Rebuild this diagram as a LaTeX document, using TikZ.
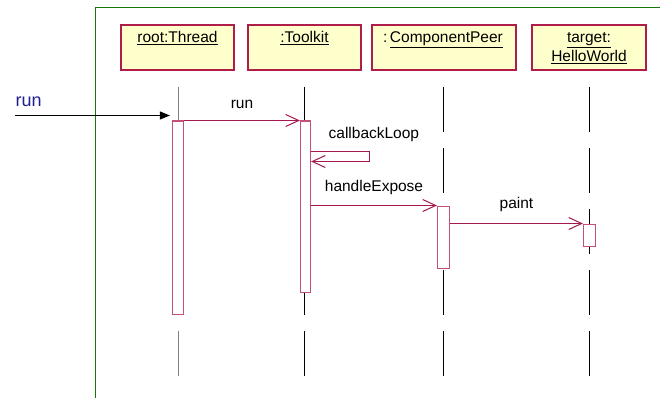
\documentclass[tikz,border=0pt]{standalone}
\usepackage{fontspec}
\setmainfont{Liberation Sans}
\usetikzlibrary{arrows.meta, positioning}
\definecolor{framegreen}{RGB}{20,120,10}
\definecolor{objfill}{RGB}{255,255,204}
\definecolor{objline}{RGB}{175,30,75}
\definecolor{actline}{RGB}{195,80,120}
\definecolor{msgline}{RGB}{165,25,80}
\definecolor{runblue}{RGB}{30,30,150}
\newcommand{\objlabel}[1]{\parbox[c][45pt][t]{108pt}{\centering\rule{0pt}{18pt}#1}}

\begin{document}
\begin{tikzpicture} [x=1pt, y=-1pt, on grid,
  font=\fontsize{15.5}{19}\selectfont,
  object/.style ={draw=objline, fill=objfill, line width=1.5pt, inner sep=0pt, minimum height=45pt},
  activation/.style ={draw=actline, fill=white, line width=1.2pt, inner sep=0pt, minimum width=11pt, anchor=north},
  lifeline/.style ={line width=1pt, dash pattern=on 45pt off 16pt},
  msg/.style ={msgline, line width=1pt, -{Straight Barb[length=13pt,width=12pt]}},
  msglabel/.style ={text=black, anchor=base},
  found/.style ={black, line width=1pt, -{Triangle[length=10pt,width=8pt]}}]
\useasboundingbox (0,0) rectangle (660,398);
\draw[framegreen, line width=1.3pt] (95.5,398) -- (95.5,7.5) -- (660,7.5);
\node[object, minimum width=113pt] (thread) at (177.5,47.5) {\objlabel{\underline{root:Thread}}};
\node[object, minimum width=113pt] (toolkit) [right=127pt of thread] {\objlabel{\underline{:Toolkit}}};
\node[object, minimum width=144pt] (peer) [right=139.5pt of toolkit] {\objlabel{\llap{:\,}\underline{ComponentPeer}}};
\node[object, minimum width=114pt] (target) [right=145pt of peer] {\objlabel{\underline{target:}\\\underline{HelloWorld}}};
\foreach \obj/\col/\dx in {thread/gray/1, toolkit/black/0, peer/black/-0.5, target/black/0.5}
  \draw[lifeline, \col] ([xshift=\dx pt, yshift=-16pt]\obj.south) -- ([xshift=\dx pt, yshift=-307pt]\obj.south);
\coordinate (tRun) at (0,120.5);
\coordinate (tLoop) at (0,151.5);
\coordinate (tBack) at (0,161.5);
\coordinate (tExpose) at (0,205.5);
\coordinate (tPaint) at (0,223.5);
\coordinate (entry) at (15,115.5);
\node[activation, minimum height=193pt] (actThread) at ([xshift=0.5pt]thread.south |- tRun) {};
\node[activation, minimum width=10pt, minimum height=171pt] (actToolkit) at ([xshift=1pt]toolkit.south |- tRun) {};
\node[activation, minimum width=12pt, minimum height=62pt] (actPeer) at ([xshift=-0.5pt]peer.south |- tExpose) {};
\node[activation, minimum width=12pt, minimum height=22pt] (actTarget) at ([xshift=0.5pt]target.south |- tPaint) {};
\draw[found] (entry) -- ([xshift=-2pt]actThread.west |- entry);
\node[text=runblue, font=\fontsize{18}{20}\selectfont, anchor=base west] (runIn) at ([xshift=-3pt, yshift=9pt]entry) {run};
\draw[msg] (actThread.north east) -- (actToolkit.north west) node[msglabel, midway, yshift=12pt] {run};
\draw[msg] (actToolkit.east |- tLoop) -- ++(58,0) -- ++(0,10) -- (actToolkit.east |- tBack);
\node[msglabel, anchor=base west] (loopLabel) at ([xshift=14pt, yshift=13pt]actToolkit.east |- tLoop) {callbackLoop};
\draw[msg] (actToolkit.east |- actPeer.north) -- (actPeer.north west) node[msglabel, midway, yshift=14pt] {handleExpose};
\draw[msg] (actPeer.east |- actTarget.north) -- (actTarget.north west) node[msglabel, midway, yshift=15pt] {paint};
\end{tikzpicture}
\end{document}
